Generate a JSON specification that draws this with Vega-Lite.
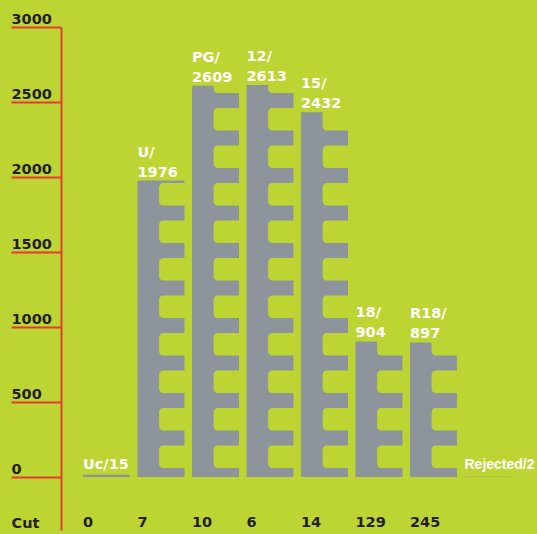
{
  "$schema": "https://vega.github.io/schema/vega-lite/v6.json",
  "width": 476,
  "height": 503,
  "autosize": {"type": "none"},
  "padding": {"left": 61, "top": 27, "right": 0, "bottom": 4},
  "background": "#bdd532",
  "config": {
    "view": {"stroke": null},
    "font": "DejaVu Sans",
    "axisX": {
      "labels": false, "ticks": false, "domain": false, "grid": false,
      "titleX": -50, "titleY": -3, "titleAlign": "left", "titleBaseline": "alphabetic",
      "titleFont": "DejaVu Sans", "titleFontSize": 14.5, "titleFontWeight": "bold", "titleColor": "#231f20"
    },
    "axisY": {
      "grid": false, "domainColor": "#e63b2e", "domainWidth": 2, "tickColor": "#e63b2e", "tickWidth": 2,
      "tickSize": 50, "labelAlign": "left", "labelBaseline": "alphabetic", "labelPadding": 0, "labelOffset": -4,
      "labelFont": "DejaVu Sans", "labelFontSize": 14.5, "labelFontWeight": "bold", "labelColor": "#231f20",
      "labelFlush": false, "labelOverlap": false
    }
  },
  "datasets": {
    "bars": [
      {"cat": "Uc", "label": "Uc/15", "value": 15, "cut": "0"},
      {"cat": "U", "label": "U/\n1976", "value": 1976, "cut": "7"},
      {"cat": "PG", "label": "PG/\n2609", "value": 2609, "cut": "10"},
      {"cat": "12", "label": "12/\n2613", "value": 2613, "cut": "6"},
      {"cat": "15", "label": "15/\n2432", "value": 2432, "cut": "14"},
      {"cat": "18", "label": "18/\n904", "value": 904, "cut": "129"},
      {"cat": "R18", "label": "R18/\n897", "value": 897, "cut": "245"},
      {"cat": "Rejected", "label": "Rejected/2", "value": 2, "cut": ""}
    ],
    "notches": [
      {"cat": "U", "n0": 60, "n1": 210}, {"cat": "U", "n0": 310, "n1": 460}, {"cat": "U", "n0": 560, "n1": 710}, {"cat": "U", "n0": 810, "n1": 960},
      {"cat": "U", "n0": 1060, "n1": 1210}, {"cat": "U", "n0": 1310, "n1": 1460}, {"cat": "U", "n0": 1560, "n1": 1710}, {"cat": "U", "n0": 1810, "n1": 1960},
      {"cat": "PG", "n0": 60, "n1": 210}, {"cat": "PG", "n0": 310, "n1": 460}, {"cat": "PG", "n0": 560, "n1": 710}, {"cat": "PG", "n0": 810, "n1": 960},
      {"cat": "PG", "n0": 1060, "n1": 1210}, {"cat": "PG", "n0": 1310, "n1": 1460}, {"cat": "PG", "n0": 1560, "n1": 1710}, {"cat": "PG", "n0": 1810, "n1": 1960},
      {"cat": "PG", "n0": 2060, "n1": 2210}, {"cat": "PG", "n0": 2310, "n1": 2460}, {"cat": "PG", "n0": 2560, "n1": 2710},
      {"cat": "12", "n0": 60, "n1": 210}, {"cat": "12", "n0": 310, "n1": 460}, {"cat": "12", "n0": 560, "n1": 710}, {"cat": "12", "n0": 810, "n1": 960},
      {"cat": "12", "n0": 1060, "n1": 1210}, {"cat": "12", "n0": 1310, "n1": 1460}, {"cat": "12", "n0": 1560, "n1": 1710}, {"cat": "12", "n0": 1810, "n1": 1960},
      {"cat": "12", "n0": 2060, "n1": 2210}, {"cat": "12", "n0": 2310, "n1": 2460}, {"cat": "12", "n0": 2560, "n1": 2710},
      {"cat": "15", "n0": 60, "n1": 210}, {"cat": "15", "n0": 310, "n1": 460}, {"cat": "15", "n0": 560, "n1": 710}, {"cat": "15", "n0": 810, "n1": 960},
      {"cat": "15", "n0": 1060, "n1": 1210}, {"cat": "15", "n0": 1310, "n1": 1460}, {"cat": "15", "n0": 1560, "n1": 1710}, {"cat": "15", "n0": 1810, "n1": 1960},
      {"cat": "15", "n0": 2060, "n1": 2210}, {"cat": "15", "n0": 2310, "n1": 2460},
      {"cat": "18", "n0": 60, "n1": 210}, {"cat": "18", "n0": 310, "n1": 460}, {"cat": "18", "n0": 560, "n1": 710}, {"cat": "18", "n0": 810, "n1": 960},
      {"cat": "R18", "n0": 60, "n1": 210}, {"cat": "R18", "n0": 310, "n1": 460}, {"cat": "R18", "n0": 560, "n1": 710}, {"cat": "R18", "n0": 810, "n1": 960}
    ]
  },
  "layer": [
    {
      "data": {"name": "bars"},
      "mark": {"type": "rect", "color": "#8d949b"},
      "encoding": {
        "x": {"field": "cat", "type": "nominal", "bandPosition": 0, "title": "Cut",
              "scale": {"domain": ["Uc", "U", "PG", "12", "15", "18", "R18", "Rejected"], "paddingInner": 0.1376, "paddingOuter": 0.4358, "align": 0.463}},
        "x2": {"field": "cat", "bandPosition": 1},
        "y": {"field": "value", "type": "quantitative", "title": null,
              "scale": {"domain": [-353, 3000], "nice": false, "zero": false},
              "axis": {"values": [0, 500, 1000, 1500, 2000, 2500, 3000], "format": "d"}},
        "y2": {"datum": 0}
      }
    },
    {
      "data": {"name": "notches"},
      "mark": {"type": "rect", "color": "#bdd532", "cornerRadius": 4},
      "encoding": {
        "x": {"field": "cat", "type": "nominal", "bandPosition": 0.46, "title": "Cut",
              "scale": {"domain": ["Uc", "U", "PG", "12", "15", "18", "R18", "Rejected"]}},
        "x2": {"field": "cat", "bandPosition": 1.07},
        "y": {"field": "n0", "type": "quantitative", "title": null},
        "y2": {"field": "n1"}
      }
    },
    {
      "mark": {"type": "rule", "color": "#e63b2e", "strokeWidth": 2},
      "encoding": {"y": {"datum": 0, "type": "quantitative"}}
    },
    {
      "data": {"name": "bars"},
      "transform": [{"filter": "datum.cat !== 'Rejected' && datum.cat !== 'Uc'"}],
      "mark": {"type": "text", "align": "left", "baseline": "alphabetic", "dy": -24, "lineHeight": 20, "lineBreak": "\n",
               "color": "#ffffff", "font": "DejaVu Sans", "fontSize": 14.5, "fontWeight": "bold"},
      "encoding": {
        "x": {"field": "cat", "type": "nominal", "bandPosition": 0, "title": "Cut",
              "scale": {"domain": ["Uc", "U", "PG", "12", "15", "18", "R18", "Rejected"]}},
        "y": {"field": "value", "type": "quantitative", "title": null},
        "text": {"field": "label"}
      }
    },
    {
      "data": {"name": "bars"},
      "transform": [{"filter": "datum.cat === 'Uc'"}],
      "mark": {"type": "text", "align": "left", "baseline": "alphabetic", "dy": -6,
               "color": "#ffffff", "font": "DejaVu Sans", "fontSize": 14.5, "fontWeight": "bold"},
      "encoding": {
        "x": {"field": "cat", "type": "nominal", "bandPosition": 0, "title": "Cut",
              "scale": {"domain": ["Uc", "U", "PG", "12", "15", "18", "R18", "Rejected"]}},
        "y": {"field": "value", "type": "quantitative", "title": null},
        "text": {"field": "label"}
      }
    },
    {
      "data": {"name": "bars"},
      "transform": [{"filter": "datum.cat === 'Rejected'"}],
      "mark": {"type": "text", "align": "left", "baseline": "alphabetic", "dy": -8,
               "color": "#ffffff", "font": "Liberation Sans", "fontSize": 14, "fontWeight": "bold"},
      "encoding": {
        "x": {"field": "cat", "type": "nominal", "bandPosition": 0, "title": "Cut",
              "scale": {"domain": ["Uc", "U", "PG", "12", "15", "18", "R18", "Rejected"]}},
        "y": {"field": "value", "type": "quantitative", "title": null},
        "text": {"field": "label"}
      }
    },
    {
      "data": {"name": "bars"},
      "mark": {"type": "text", "align": "left", "baseline": "alphabetic",
               "color": "#231f20", "font": "DejaVu Sans", "fontSize": 14.5, "fontWeight": "bold"},
      "encoding": {
        "x": {"field": "cat", "type": "nominal", "bandPosition": 0, "title": "Cut",
              "scale": {"domain": ["Uc", "U", "PG", "12", "15", "18", "R18", "Rejected"]}},
        "y": {"datum": -333, "type": "quantitative"},
        "text": {"field": "cut"}
      }
    }
  ]
}
